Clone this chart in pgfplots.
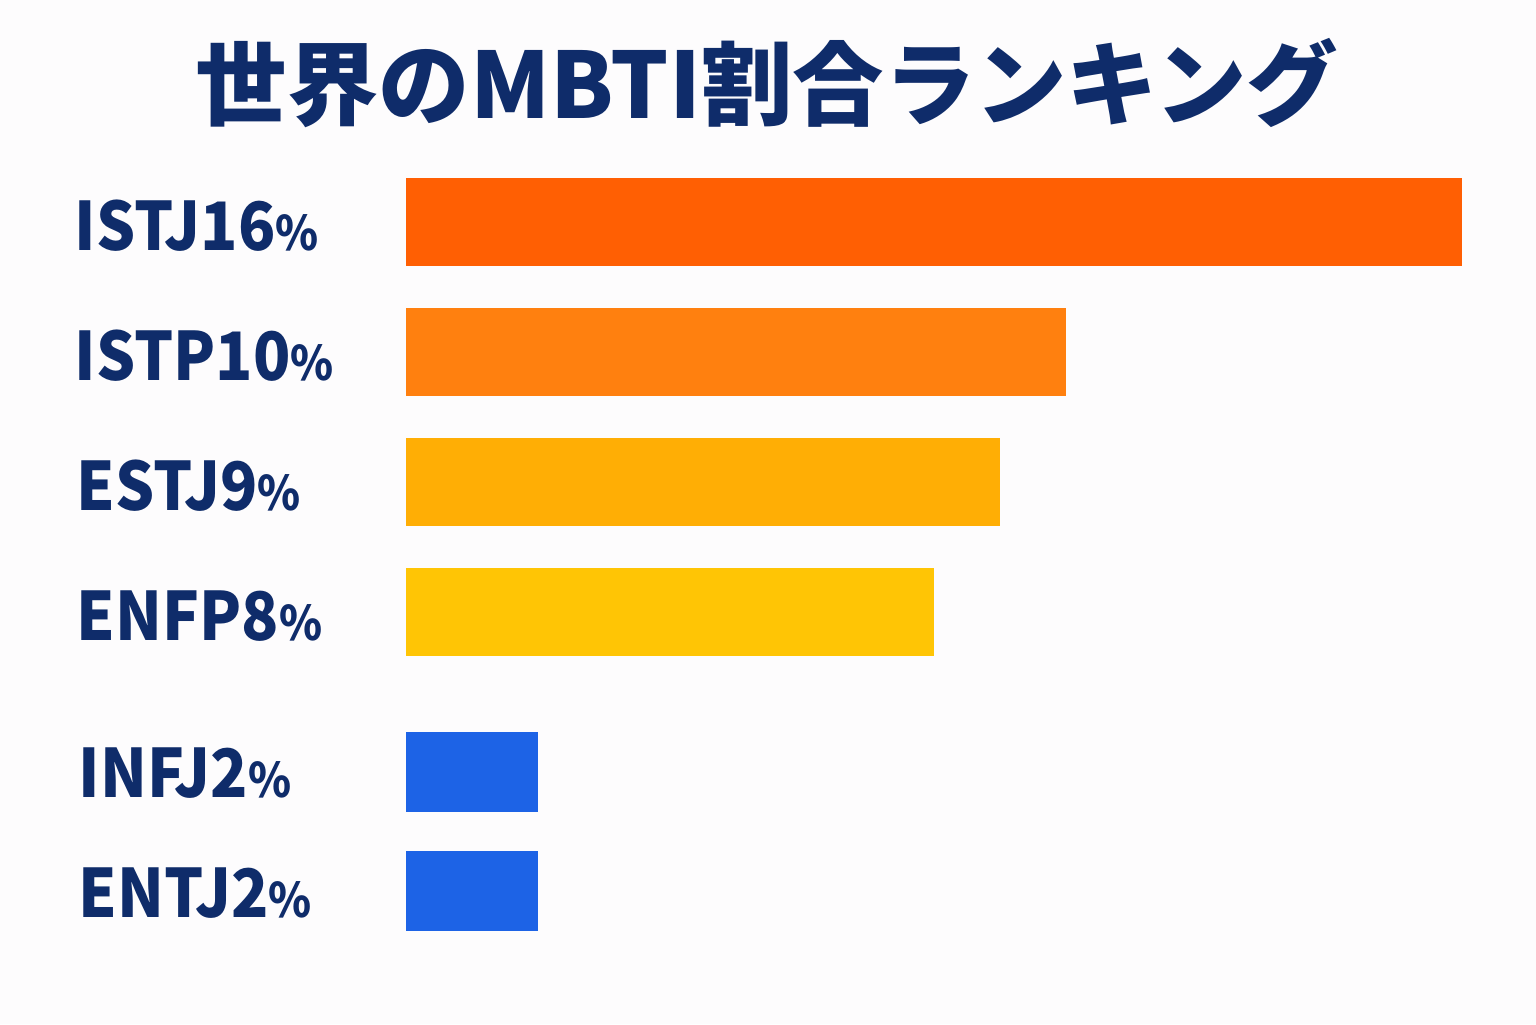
\documentclass[border=0pt]{standalone}
\usepackage{fontspec}
\usepackage{pgfplots}
\pgfplotsset{compat=1.18}
\newfontfamily\jp{Noto Sans CJK JP}
\newfontfamily\jplab{Noto Sans CJK JP}[FakeStretch=0.92]
\definecolor{bg}{RGB}{253,252,253}
\definecolor{navy}{RGB}{15,44,106}
\definecolor{c1}{RGB}{255,95,3}
\definecolor{c2}{RGB}{255,128,15}
\definecolor{c3}{RGB}{255,174,5}
\definecolor{c4}{RGB}{255,197,5}
\definecolor{c5}{RGB}{29,99,230}
% label font: 1px of the reference = 0.1mm here
\newcommand\lab{\jplab\bfseries\fontsize{19}{22}\selectfont\color{navy}}
\newcommand\pct{{\fontsize{13.5}{15}\selectfont\%}}
\begin{document}
\begin{tikzpicture}
\begin{axis}[
    width=153.6mm, height=102.4mm, scale only axis,
    xmin=-6.1515, xmax=17.1212,
    ymin=0, ymax=1024, y dir=reverse,
    axis lines=none, ticks=none,
    axis background/.style={fill=bg},
    xbar, bar shift=0pt, bar width=88,
    clip=false,
  ]
  \addplot[fill=c1, draw=none] coordinates {(16,222)};
  \addplot[fill=c2, draw=none] coordinates {(10,352)};
  \addplot[fill=c3, draw=none] coordinates {(9,482)};
  \addplot[fill=c4, draw=none] coordinates {(8,612)};
  \addplot[fill=c5, draw=none, bar width=80] coordinates {(2,771.5)};
  \addplot[fill=c5, draw=none, bar width=80] coordinates {(2,891)};

  \node[anchor=base, inner sep=0pt, font={\jp\bfseries\fontsize{26}{30}\selectfont\color{navy}}]
    at (axis cs:5.47,118) {世界のMBTI割合ランキング};

  \node[anchor=base west, inner sep=0pt, font=\lab] at (axis cs:-5.03,250) {ISTJ16\pct};
  \node[anchor=base west, inner sep=0pt, font=\lab] at (axis cs:-5.03,380) {ISTP10\pct};
  \node[anchor=base west, inner sep=0pt, font=\lab] at (axis cs:-5.00,510) {ESTJ9\pct};
  \node[anchor=base west, inner sep=0pt, font=\lab] at (axis cs:-5.00,640) {ENFP8\pct};
  \node[anchor=base west, inner sep=0pt, font=\lab] at (axis cs:-4.97,797) {INFJ2\pct};
  \node[anchor=base west, inner sep=0pt, font=\lab] at (axis cs:-4.97,917) {ENTJ2\pct};
\end{axis}
\end{tikzpicture}
\end{document}
